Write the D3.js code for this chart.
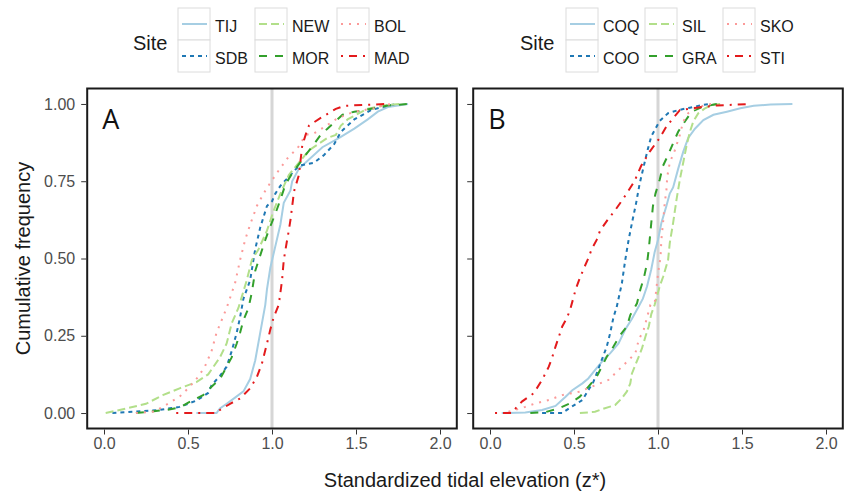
<!DOCTYPE html>
<html>
<head>
<meta charset="utf-8">
<script src="https://cdn.jsdelivr.net/npm/d3@7"></script>
<style>
  body { margin: 0; background: #fff; }
  svg { display: block; font-family: "Liberation Sans", Arial, sans-serif; }
</style>
</head>
<body>
<svg id="chart" width="848" height="495"></svg>
<script>
// Site names, colours and line types (same order in both panels)
const sitesA = ['TIJ', 'SDB', 'NEW', 'MOR', 'BOL', 'MAD'];
const sitesB = ['COQ', 'COO', 'SIL', 'GRA', 'SKO', 'STI'];
const colours = ['#a6cee3', '#1f78b4', '#b2df8a', '#33a02c', '#fb9a99', '#e31a1c'];
const dashes = [null, '4,4', '8,4', '8,8', '2,6', '2,6,8,6'];

const xTicks = [0, 0.5, 1, 1.5, 2];
const yTicks = [0, 0.25, 0.5, 0.75, 1];

// Cumulative frequency curves, [z*, cumulative frequency]
// Panel A
const TIJ = [[0.55,0],[0.67,0],[0.69,0.015],[0.73,0.03],[0.78,0.05],[0.83,0.07],[0.87,0.11],[0.90,0.17],[0.93,0.26],[0.96,0.35],[0.97,0.40],[0.99,0.47],[1.02,0.54],[1.05,0.61],[1.07,0.68],[1.11,0.72],[1.12,0.75],[1.16,0.79],[1.22,0.82],[1.30,0.86],[1.40,0.89],[1.49,0.92],[1.57,0.95],[1.63,0.975],[1.69,0.99],[1.81,1.0]];
const SDB = [[0.05,0],[0.33,0.01],[0.45,0.02],[0.55,0.04],[0.62,0.065],[0.64,0.09],[0.69,0.12],[0.73,0.15],[0.76,0.20],[0.79,0.26],[0.81,0.31],[0.83,0.37],[0.87,0.43],[0.90,0.53],[0.93,0.60],[0.97,0.67],[1.00,0.685],[1.02,0.71],[1.05,0.735],[1.16,0.80],[1.25,0.81],[1.31,0.835],[1.37,0.87],[1.41,0.91],[1.49,0.95],[1.59,0.98],[1.69,0.995],[1.75,1.0]];
const NEW = [[0.01,0],[0.135,0.015],[0.25,0.03],[0.35,0.058],[0.45,0.08],[0.55,0.10],[0.62,0.125],[0.69,0.18],[0.73,0.225],[0.76,0.29],[0.80,0.34],[0.85,0.43],[0.88,0.495],[0.92,0.53],[0.97,0.59],[1.01,0.655],[1.05,0.71],[1.10,0.77],[1.16,0.81],[1.22,0.85],[1.33,0.89],[1.38,0.90],[1.41,0.93],[1.45,0.95],[1.57,0.985],[1.69,0.997],[1.77,1.0]];
const MOR = [[0.19,0],[0.37,0.01],[0.45,0.018],[0.53,0.042],[0.59,0.058],[0.64,0.085],[0.69,0.11],[0.73,0.15],[0.76,0.18],[0.79,0.225],[0.81,0.26],[0.83,0.30],[0.86,0.34],[0.88,0.39],[0.90,0.46],[0.93,0.51],[0.96,0.56],[0.98,0.59],[1.02,0.645],[1.05,0.69],[1.08,0.74],[1.12,0.775],[1.20,0.835],[1.25,0.87],[1.29,0.90],[1.33,0.92],[1.42,0.965],[1.49,0.975],[1.55,0.98],[1.69,0.995],[1.81,1.0]];
const BOL = [[0.19,0],[0.30,0.005],[0.38,0.03],[0.45,0.053],[0.51,0.085],[0.56,0.117],[0.60,0.15],[0.64,0.20],[0.67,0.26],[0.70,0.30],[0.73,0.34],[0.78,0.42],[0.81,0.495],[0.84,0.56],[0.87,0.61],[0.91,0.67],[0.95,0.71],[0.99,0.745],[1.04,0.785],[1.10,0.83],[1.15,0.855],[1.20,0.90],[1.25,0.905],[1.31,0.925],[1.38,0.95],[1.44,0.965],[1.49,0.975],[1.61,0.986],[1.67,0.997],[1.72,1.0]];
const MAD = [[0.43,0],[0.67,0],[0.69,0.01],[0.75,0.03],[0.81,0.047],[0.87,0.08],[0.91,0.117],[0.94,0.16],[0.97,0.225],[0.99,0.27],[1.01,0.31],[1.04,0.35],[1.06,0.43],[1.07,0.495],[1.09,0.56],[1.10,0.59],[1.11,0.625],[1.125,0.69],[1.13,0.715],[1.16,0.77],[1.18,0.865],[1.20,0.90],[1.22,0.93],[1.29,0.955],[1.38,0.984],[1.43,0.994],[1.55,0.997],[1.69,1.0]];
// Panel B
const COQ = [[0.07,0],[0.21,0.002],[0.31,0.01],[0.39,0.023],[0.45,0.053],[0.49,0.074],[0.55,0.096],[0.585,0.112],[0.625,0.139],[0.675,0.172],[0.715,0.193],[0.765,0.225],[0.805,0.27],[0.845,0.305],[0.885,0.345],[0.91,0.37],[0.935,0.41],[0.96,0.465],[0.98,0.52],[1.00,0.56],[1.02,0.615],[1.05,0.67],[1.07,0.71],[1.09,0.73],[1.12,0.79],[1.15,0.845],[1.18,0.89],[1.22,0.92],[1.27,0.948],[1.33,0.965],[1.41,0.975],[1.49,0.986],[1.57,0.994],[1.67,0.998],[1.80,1.0]];
const COO = [[0.31,0],[0.43,0],[0.47,0.015],[0.55,0.042],[0.585,0.074],[0.615,0.10],[0.635,0.128],[0.665,0.172],[0.695,0.215],[0.715,0.258],[0.735,0.31],[0.755,0.345],[0.765,0.37],[0.785,0.42],[0.805,0.495],[0.825,0.56],[0.845,0.615],[0.87,0.68],[0.89,0.74],[0.92,0.81],[0.94,0.855],[0.96,0.895],[0.98,0.915],[1.01,0.945],[1.06,0.97],[1.12,0.98],[1.19,0.988],[1.27,0.997],[1.31,1.0]];
const SIL = [[0.535,0],[0.625,0.004],[0.665,0.012],[0.745,0.026],[0.785,0.048],[0.815,0.07],[0.835,0.096],[0.845,0.128],[0.865,0.155],[0.885,0.182],[0.905,0.21],[0.925,0.247],[0.945,0.28],[0.96,0.32],[0.98,0.35],[1.01,0.41],[1.03,0.44],[1.06,0.495],[1.07,0.55],[1.09,0.615],[1.11,0.69],[1.13,0.755],[1.15,0.81],[1.17,0.865],[1.19,0.91],[1.21,0.943],[1.24,0.97],[1.28,0.986],[1.32,0.997],[1.37,1.0]];
const GRA = [[0.24,0],[0.33,0.003],[0.41,0.015],[0.475,0.031],[0.535,0.053],[0.585,0.085],[0.635,0.117],[0.665,0.15],[0.695,0.182],[0.735,0.215],[0.775,0.252],[0.815,0.28],[0.835,0.317],[0.875,0.355],[0.895,0.40],[0.915,0.435],[0.935,0.485],[0.945,0.53],[0.96,0.615],[0.97,0.67],[0.985,0.71],[1.01,0.755],[1.03,0.80],[1.06,0.835],[1.09,0.873],[1.12,0.91],[1.16,0.943],[1.20,0.975],[1.26,0.99],[1.35,1.0]];
const SKO = [[0.11,0.004],[0.15,0.01],[0.21,0.02],[0.27,0.031],[0.35,0.042],[0.43,0.058],[0.53,0.069],[0.605,0.085],[0.705,0.107],[0.765,0.139],[0.815,0.166],[0.865,0.193],[0.885,0.236],[0.915,0.27],[0.935,0.31],[0.955,0.35],[0.98,0.355],[0.99,0.40],[1.00,0.45],[1.015,0.505],[1.02,0.56],[1.03,0.615],[1.04,0.68],[1.05,0.72],[1.055,0.765],[1.07,0.81],[1.10,0.85],[1.13,0.90],[1.15,0.943],[1.18,0.97],[1.23,0.988],[1.29,0.997],[1.32,1.0]];
const STI = [[0.03,0],[0.13,0],[0.16,0.02],[0.19,0.037],[0.26,0.064],[0.31,0.107],[0.35,0.15],[0.37,0.18],[0.39,0.215],[0.41,0.247],[0.43,0.28],[0.46,0.31],[0.48,0.34],[0.51,0.40],[0.53,0.43],[0.56,0.47],[0.585,0.50],[0.605,0.53],[0.635,0.56],[0.655,0.59],[0.70,0.625],[0.75,0.66],[0.81,0.707],[0.86,0.75],[0.90,0.80],[0.95,0.845],[1.01,0.89],[1.05,0.927],[1.09,0.954],[1.13,0.98],[1.23,0.988],[1.35,0.995],[1.55,1.0]];

const svg = d3.select('#chart');

const panelTop = 88.5;
const panelBottom = 428.5;

const panels = [
  { label: 'A', x0: 87.2, x1: 456.8, sites: sitesA, data: [TIJ, SDB, NEW, MOR, BOL, MAD],
    legendX: 133, keyX: [178, 255, 337], showY: true },
  { label: 'B', x0: 473.2, x1: 842.8, sites: sitesB, data: [COQ, COO, SIL, GRA, SKO, STI],
    legendX: 520, keyX: [566, 645, 723], showY: false }
];

const yScale = d3.scaleLinear()
  .domain([-0.05, 1.05])
  .range([panelBottom, panelTop]);

panels.forEach(p => {
  const xScale = d3.scaleLinear()
    .domain([-0.1, 2.1])
    .range([p.x0, p.x1]);

  const g = svg.append('g');

  // reference line at z* = 1
  g.append('line')
    .attr('x1', xScale(1)).attr('x2', xScale(1))
    .attr('y1', panelTop).attr('y2', panelBottom)
    .attr('stroke', '#d6d6d6')
    .attr('stroke-width', 3);

  const line = d3.line()
    .x(d => xScale(d[0]))
    .y(d => yScale(d[1]));

  p.data.forEach((series, i) => {
    g.append('path')
      .datum(series)
      .attr('d', line)
      .attr('fill', 'none')
      .attr('stroke', colours[i])
      .attr('stroke-width', 2)
      .attr('stroke-dasharray', dashes[i]);
  });

  // panel border
  g.append('rect')
    .attr('x', p.x0).attr('y', panelTop)
    .attr('width', p.x1 - p.x0).attr('height', panelBottom - panelTop)
    .attr('fill', 'none')
    .attr('stroke', '#1a1a1a')
    .attr('stroke-width', 2);

  // axes
  const xAxis = g.append('g')
    .attr('transform', `translate(0, ${panelBottom + 1})`)
    .call(d3.axisBottom(xScale)
      .tickValues(xTicks)
      .tickSize(5)
      .tickPadding(3)
      .tickFormat(d3.format('.1f')));

  const yAxis = g.append('g')
    .attr('transform', `translate(${p.x0 - 1}, 0)`)
    .call(d3.axisLeft(yScale)
      .tickValues(yTicks)
      .tickSize(5)
      .tickPadding(6)
      .tickFormat(p.showY ? d3.format('.2f') : ''));

  [xAxis, yAxis].forEach(ax => {
    ax.select('.domain').remove();
    ax.selectAll('.tick line').attr('stroke', '#333');
    ax.selectAll('.tick text')
      .attr('fill', '#4d4d4d')
      .style('font-size', '16px')
      .style('font-family', '"Liberation Sans", Arial, sans-serif');
  });

  // panel letter
  g.append('text')
    .attr('x', p.x0 + 15)
    .attr('y', panelTop + 40)
    .style('font-family', '"Open Sans", sans-serif')
    .style('font-size', '27px')
    .attr('fill', '#111')
    .text(p.label);

  // legend
  const legend = svg.append('g');
  legend.append('text')
    .attr('x', p.legendX)
    .attr('y', 50)
    .style('font-size', '20px')
    .attr('fill', '#1a1a1a')
    .text('Site');

  p.sites.forEach((s, i) => {
    const col = Math.floor(i / 2);
    const row = i % 2;
    const kx = p.keyX[col];
    const ky = 8 + row * 32;
    legend.append('rect')
      .attr('x', kx).attr('y', ky)
      .attr('width', 32).attr('height', 32)
      .attr('fill', '#fff')
      .attr('stroke', '#dcdcdc')
      .attr('stroke-width', 1);
    legend.append('line')
      .attr('x1', kx + 4).attr('x2', kx + 29)
      .attr('y1', ky + 16).attr('y2', ky + 16)
      .attr('stroke', colours[i])
      .attr('stroke-width', 2)
      .attr('stroke-dasharray', dashes[i]);
    legend.append('text')
      .attr('x', kx + 37)
      .attr('y', ky + 24)
      .style('font-size', '16px')
      .attr('fill', '#1a1a1a')
      .text(s);
  });
});

// axis titles
svg.append('text')
  .attr('x', (87.2 + 842.8) / 2)
  .attr('y', 487)
  .attr('text-anchor', 'middle')
  .style('font-size', '20px')
  .attr('fill', '#1a1a1a')
  .text('Standardized tidal elevation (z*)');

svg.append('text')
  .attr('transform', 'rotate(-90)')
  .attr('x', -(panelTop + panelBottom) / 2)
  .attr('y', 29.5)
  .attr('text-anchor', 'middle')
  .style('font-size', '20px')
  .attr('fill', '#1a1a1a')
  .text('Cumulative frequency');
</script>
</body>
</html>
